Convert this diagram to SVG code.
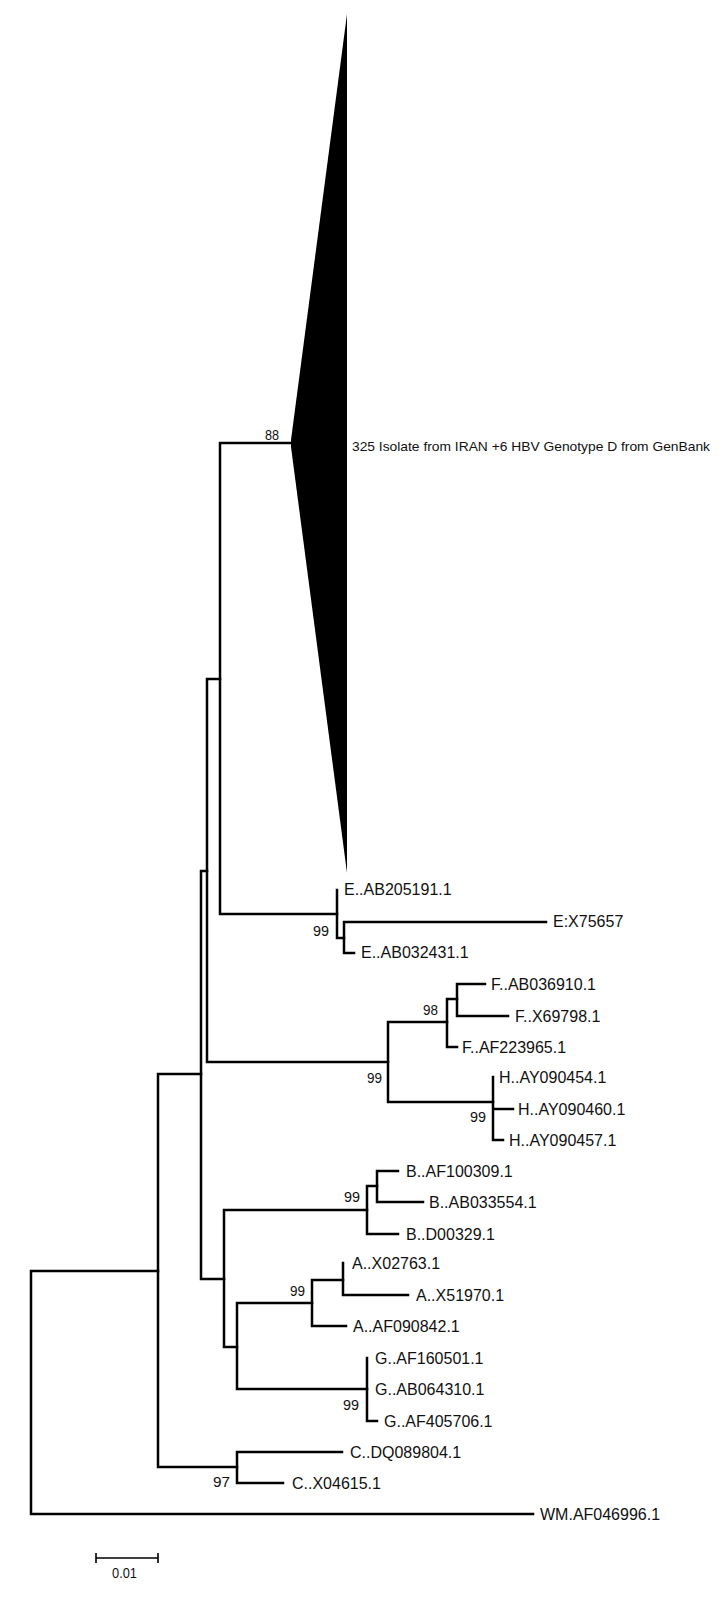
<svg xmlns="http://www.w3.org/2000/svg" width="726" height="1608" viewBox="0 0 726 1608">
<style>
.br{fill:none;stroke:#000;stroke-width:2.5;stroke-linecap:square}
.tip{font-family:"Liberation Sans",Arial,sans-serif;font-size:16px;fill:#111}
.bs{font-family:"Liberation Sans",Arial,sans-serif;font-size:15px;fill:#111}
.sm{font-family:"Liberation Sans",Arial,sans-serif;font-size:13px;fill:#111}
.sb{fill:none;stroke:#000;stroke-width:1.6}
</style>
<rect width="726" height="1608" fill="#fff"/>
<g id="connectors">
<path class="br" d="M31,1271V1514M31,1271H158M31,1514H533"/>
<path class="br" d="M158,1074V1467M158,1074H201M158,1467H237"/>
<path class="br" d="M201,871V1279M201,871H207M201,1279H224"/>
<path class="br" d="M207,679V1062M207,679H220M207,1062H388"/>
<path class="br" d="M220,443V914M220,443H291M220,914H337"/>
<path class="br" d="M337,890V938M337,938H344"/>
<path class="br" d="M344,922V953M344,922H546M344,953H354"/>
<path class="br" d="M388,1022V1102M388,1022H447M388,1102H493"/>
<path class="br" d="M447,999V1047M447,999H457M447,1047H457"/>
<path class="br" d="M457,984V1016M457,984H485M457,1016H508"/>
<path class="br" d="M493,1077V1140M493,1109H513M493,1140H503"/>
<path class="br" d="M224,1210V1347M224,1210H367M224,1347H237"/>
<path class="br" d="M367,1186V1234M367,1186H377M367,1234H398"/>
<path class="br" d="M377,1171V1202M377,1171H398M377,1202H423"/>
<path class="br" d="M237,1303V1389M237,1303H312M237,1389H367"/>
<path class="br" d="M312,1280V1326M312,1280H343M312,1326H346"/>
<path class="br" d="M343,1263V1295M343,1295H408"/>
<path class="br" d="M367,1358V1421M367,1421H377"/>
<path class="br" d="M237,1452V1483M237,1452H342M237,1483H283"/>
</g>
<g id="clade-D">
<polygon points="291,440 347,14 347,873 291,447" fill="#000"/>
<text x="352" y="451" class="sm" textLength="358" lengthAdjust="spacingAndGlyphs">325 Isolate from IRAN +6 HBV Genotype D from GenBank</text>
</g>
<g id="tip-E-AB205191"><text class="tip" x="344" y="895">E..AB205191.1</text></g>
<g id="tip-E-X75657"><text class="tip" x="553" y="927">E:X75657</text></g>
<g id="tip-E-AB032431"><text class="tip" x="361" y="958">E..AB032431.1</text></g>
<g id="tip-F-AB036910"><text class="tip" x="491" y="990">F..AB036910.1</text></g>
<g id="tip-F-X69798"><text class="tip" x="515" y="1022">F..X69798.1</text></g>
<g id="tip-F-AF223965"><text class="tip" x="462" y="1053">F..AF223965.1</text></g>
<g id="tip-H-AY090454"><text class="tip" x="499" y="1083">H..AY090454.1</text></g>
<g id="tip-H-AY090460"><text class="tip" x="518" y="1115">H..AY090460.1</text></g>
<g id="tip-H-AY090457"><text class="tip" x="509" y="1146">H..AY090457.1</text></g>
<g id="tip-B-AF100309"><text class="tip" x="406" y="1177">B..AF100309.1</text></g>
<g id="tip-B-AB033554"><text class="tip" x="429" y="1208">B..AB033554.1</text></g>
<g id="tip-B-D00329"><text class="tip" x="406" y="1240">B..D00329.1</text></g>
<g id="tip-A-X02763"><text class="tip" x="352" y="1269">A..X02763.1</text></g>
<g id="tip-A-X51970"><text class="tip" x="416" y="1301">A..X51970.1</text></g>
<g id="tip-A-AF090842"><text class="tip" x="353" y="1332">A..AF090842.1</text></g>
<g id="tip-G-AF160501"><text class="tip" x="375" y="1364">G..AF160501.1</text></g>
<g id="tip-G-AB064310"><text class="tip" x="375" y="1395">G..AB064310.1</text></g>
<g id="tip-G-AF405706"><text class="tip" x="384" y="1427">G..AF405706.1</text></g>
<g id="tip-C-DQ089804"><text class="tip" x="350" y="1458">C..DQ089804.1</text></g>
<g id="tip-C-X04615"><text class="tip" x="292" y="1489">C..X04615.1</text></g>
<g id="tip-WM-AF046996"><text class="tip" x="540" y="1520">WM.AF046996.1</text></g>
<g id="bootstrap">
<text class="bs" x="265" y="440" textLength="14" lengthAdjust="spacingAndGlyphs">88</text>
<text class="bs" x="313" y="936" textLength="16" lengthAdjust="spacingAndGlyphs">99</text>
<text class="bs" x="423" y="1015" textLength="15" lengthAdjust="spacingAndGlyphs">98</text>
<text class="bs" x="367" y="1083" textLength="15" lengthAdjust="spacingAndGlyphs">99</text>
<text class="bs" x="470" y="1122" textLength="16" lengthAdjust="spacingAndGlyphs">99</text>
<text class="bs" x="344" y="1202" textLength="16" lengthAdjust="spacingAndGlyphs">99</text>
<text class="bs" x="290" y="1296" textLength="15" lengthAdjust="spacingAndGlyphs">99</text>
<text class="bs" x="343" y="1410" textLength="16" lengthAdjust="spacingAndGlyphs">99</text>
<text class="bs" x="213" y="1487" textLength="17" lengthAdjust="spacingAndGlyphs">97</text>
</g>
<g id="scale-bar">
<path class="sb" d="M96,1558H158M96,1553V1563M158,1553V1563"/>
<text class="bs" x="112" y="1578" textLength="25" lengthAdjust="spacingAndGlyphs">0.01</text>
</g>
</svg>
